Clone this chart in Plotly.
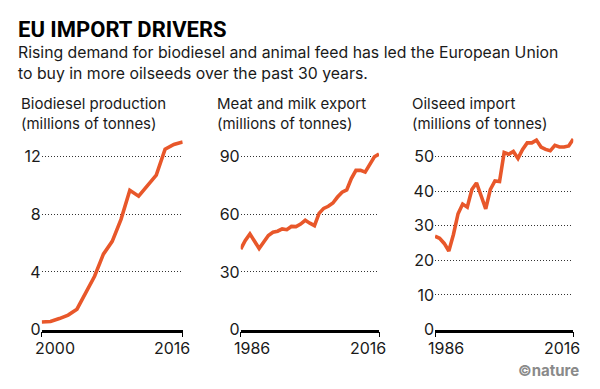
import plotly.graph_objects as go

# ---- data ----
bio_years = list(range(2000, 2017))
bio_vals = [0.52, 0.56, 0.76, 1.0, 1.41, 2.53, 3.7, 5.23, 6.12, 7.65, 9.67, 9.26,
            9.98, 10.72, 12.52, 12.85, 13.03]
meat_years = list(range(1986, 2017))
meat_vals = [41.9, 46.4, 49.8, 45.6, 42.2, 45.6, 49.0, 50.7, 51.2, 52.4, 52.0, 53.7,
             53.6, 54.9, 56.9, 55.4, 54.1, 60.5, 63.1, 64.2, 65.9, 69.0, 71.5, 72.7,
             78.6, 82.9, 82.9, 82.0, 85.9, 90.0, 91.4]
oil_years = list(range(1986, 2017))
oil_vals = [27.0, 26.4, 24.9, 22.7, 27.5, 33.5, 36.3, 35.4, 40.5, 42.4, 38.7, 34.9,
            40.5, 43.0, 42.8, 51.2, 50.7, 51.5, 49.5, 52.1, 54.0, 54.0, 54.8, 52.8,
            52.1, 51.7, 53.3, 52.8, 52.8, 53.1, 55.1]

bio_ticks = [0, 4, 8, 12]
meat_ticks = [0, 30, 60, 90]
oil_ticks = [0, 10, 20, 30, 40, 50]

panel_titles = ["Biodiesel production<br>(millions of tonnes)",
                "Meat and milk export<br>(millions of tonnes)",
                "Oilseed import<br>(millions of tonnes)"]
title = "EU IMPORT DRIVERS"
subtitle = ("Rising demand for biodiesel and animal feed has led the European Union<br>"
            "to buy in more oilseeds over the past 30 years.")
credit = "©nature"

# ---- style / geometry (target picture pixel coordinates) ----
XOFF, YOFF = 8, 0
W, H = 600 - XOFF, 389 - YOFF
ORANGE = "#E8572A"
TXT = "#1a1a1a"
FONT = "Inter, Roboto, sans-serif"


def px(x):
    return (x - XOFF) / W


def py(y):
    return (H - (y - YOFF)) / H


panels = [
    (bio_years, bio_vals, bio_ticks, 13.53, (41.7, 182.7), 20.0),
    (meat_years, meat_vals, meat_ticks, 101.5, (240.7, 379.0), 215.5),
    (oil_years, oil_vals, oil_ticks, 56.37, (435.0, 573.3), 410.5),
]

plot_bottom_px = 330
plot_top_px = 130
ydom = [py(plot_bottom_px), py(plot_top_px)]

fig = go.Figure()
annotations = []
layout = dict(
    width=W, height=H,
    margin=dict(l=0, r=0, t=0, b=0),
    paper_bgcolor="white", plot_bgcolor="white",
    showlegend=False,
    font=dict(family=FONT, color=TXT, size=16),
)


def text_ann(x, y, text, size, xanchor="left", color=TXT, family=FONT, **kw):
    d = dict(xref="paper", yref="paper", x=px(x), y=py(y), text=text,
             showarrow=False, xanchor=xanchor, yanchor="middle", align="left",
             borderpad=0, font=dict(family=family, size=size, color=color))
    d.update(kw)
    return d


for i, (yrs, vals, ticks, ymax, (x0, x1), tx) in enumerate(panels):
    n = "" if i == 0 else str(i + 1)
    fig.add_trace(go.Scatter(
        x=yrs, y=vals, mode="lines",
        line=dict(color=ORANGE, width=3.6),
        xaxis="x" + n, yaxis="y" + n, hoverinfo="skip",
    ))
    layout["xaxis" + n] = dict(
        domain=[px(x0), px(x1)], anchor="y" + n,
        range=[yrs[0], yrs[-1]],
        showgrid=False, zeroline=False,
        showline=True, linewidth=2.5, linecolor="black",
        ticks="outside", ticklen=5, tickwidth=1, tickcolor="black",
        tickvals=[yrs[0], yrs[-1]], showticklabels=False,
    )
    layout["yaxis" + n] = dict(
        domain=ydom, anchor="x" + n,
        range=[0, ymax],
        tickvals=ticks,
        showgrid=True, gridcolor="#333333", gridwidth=1, griddash="1px,2px",
        zeroline=False, showline=False, ticks="",
        tickfont=dict(family=FONT, size=16, color=TXT),
    )
    # x tick labels (first/last year)
    for yr, anc, sh in ((yrs[0], "left", -8), (yrs[-1], "right", 8)):
        annotations.append(dict(
            xref="x" + n, yref="paper", x=yr, y=py(348.8),
            text=str(yr), showarrow=False, xanchor=anc, yanchor="middle",
            xshift=sh, borderpad=0, font=dict(family=FONT, size=16, color=TXT),
        ))
    # panel title (two lines)
    annotations.append(text_ann(tx, 107.8, panel_titles[i], 15))

annotations.append(text_ann(
    17, 22.5, "<b>" + title + "</b>", 22, color="black",
    family="Roboto, Liberation Sans, sans-serif"))
annotations.append(text_ann(17, 56.2, subtitle, 15.8))
annotations.append(text_ann(580, 372, "<b>" + credit + "</b>", 15,
                            xanchor="right", color="#8a8a8a"))

layout["annotations"] = annotations
fig.update_layout(**layout)
fig.write_html("out.html")
